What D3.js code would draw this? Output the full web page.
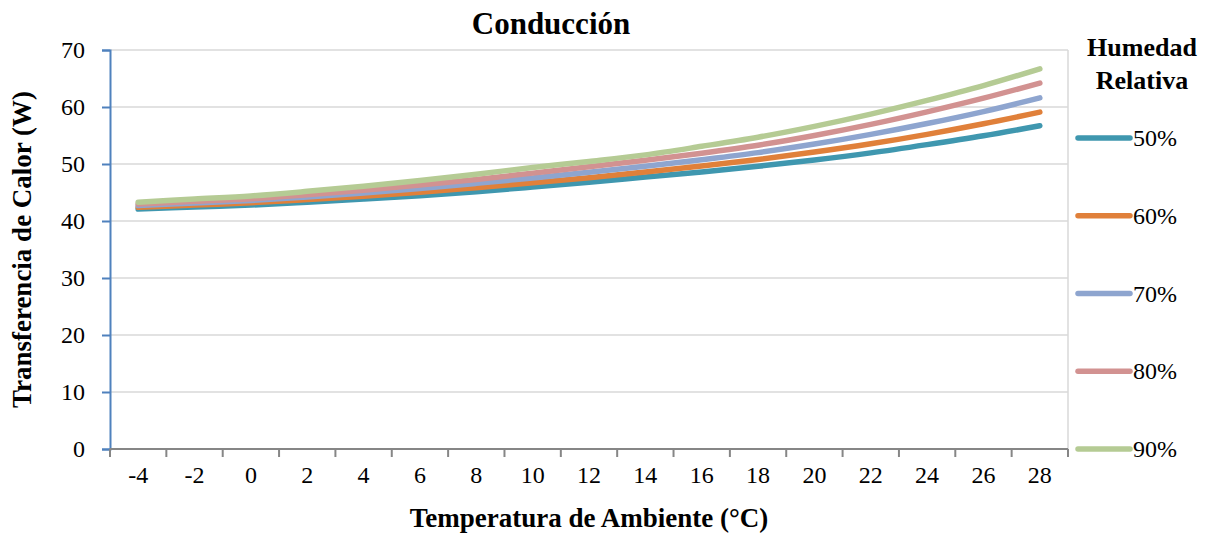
<!DOCTYPE html>
<html>
<head>
<meta charset="utf-8">
<script src="https://cdn.jsdelivr.net/npm/d3@7"></script>
<style>
  body { margin: 0; background: #fff; }
  svg text { font-family: "Liberation Serif", "Times New Roman", serif; fill: #000; }
</style>
</head>
<body>
<div class="canvas"></div>
<script>
// categories (temperature, °C)
const temps = ['-4', '-2', '0', '2', '4', '6', '8', '10', '12', '14', '16', '18', '20', '22', '24', '26', '28'];
// series names
const seriesNames = ['50%', '60%', '70%', '80%', '90%'];
// values (W)
const hr50 = [42.1, 42.45, 42.8, 43.3, 43.85, 44.45, 45.15, 45.95, 46.8, 47.7, 48.6, 49.6, 50.7, 51.95, 53.4, 54.95, 56.7];
const hr60 = [42.4, 42.8, 43.2, 43.75, 44.35, 45.05, 45.85, 46.7, 47.6, 48.6, 49.65, 50.8, 52.1, 53.55, 55.2, 57.05, 59.1];
const hr70 = [42.7, 43.15, 43.6, 44.2, 44.9, 45.7, 46.6, 47.55, 48.55, 49.6, 50.75, 52.0, 53.5, 55.2, 57.1, 59.2, 61.6];
const hr80 = [43.0, 43.45, 43.9, 44.6, 45.4, 46.3, 47.3, 48.4, 49.5, 50.65, 51.9, 53.3, 55.0, 56.95, 59.15, 61.55, 64.2];
const hr90 = [43.3, 43.85, 44.4, 45.2, 46.1, 47.1, 48.2, 49.4, 50.45, 51.6, 53.1, 54.7, 56.6, 58.75, 61.15, 63.75, 66.7];
// y ticks
const yTicks = [0, 10, 20, 30, 40, 50, 60, 70];

const colors = ['#3F97AF', '#E0803A', '#8EA5CF', '#D29291', '#B5CB94'];
const series = [hr50, hr60, hr70, hr80, hr90].map((v, i) => ({ name: seriesNames[i], values: v, color: colors[i] }));

// chart dimensions
const dims = { width: 1207, height: 534 };
const plot = { left: 110, right: 1068, top: 50, bottom: 449 };

const svg = d3.select('.canvas')
  .append('svg')
  .attr('width', dims.width)
  .attr('height', dims.height);

// scales
const x = d3.scaleBand()
  .domain(temps)
  .range([plot.left, plot.right])
  .padding(0);

const y = d3.scaleLinear()
  .domain([0, 70])
  .range([plot.bottom, plot.top]);

// gridlines
svg.append('g')
  .selectAll('line')
  .data(yTicks.filter(d => d > 0))
  .enter().append('line')
    .attr('x1', plot.left)
    .attr('x2', plot.right)
    .attr('y1', d => y(d))
    .attr('y2', d => y(d))
    .attr('stroke', '#D9D9D9')
    .attr('stroke-width', 1.5);

// right edge of plot area
svg.append('line')
  .attr('x1', plot.right).attr('x2', plot.right)
  .attr('y1', plot.top).attr('y2', plot.bottom)
  .attr('stroke', '#D9D9D9')
  .attr('stroke-width', 1.5);

// y axis
const yAxis = d3.axisLeft(y)
  .tickValues(yTicks)
  .tickSize(8)
  .tickPadding(17);

const yG = svg.append('g')
  .attr('transform', `translate(${plot.left}, 0)`)
  .call(yAxis);
yG.select('.domain').attr('stroke', '#4F81BD').attr('stroke-width', 2);
yG.selectAll('.tick line').attr('stroke', '#4F81BD').attr('stroke-width', 2);
yG.selectAll('.tick text')
  .attr('font-size', '24px')
  .attr('font-family', '"Liberation Serif", serif')
  .attr('fill', '#000');

// x axis - labels in the middle of each category, ticks on the boundaries
const xAxis = d3.axisBottom(x)
  .tickSize(0)
  .tickPadding(17);

const xG = svg.append('g')
  .attr('transform', `translate(0, ${plot.bottom})`)
  .call(xAxis);
xG.select('.domain').remove();
xG.selectAll('.tick text')
  .attr('font-size', '24px')
  .attr('font-family', '"Liberation Serif", serif')
  .attr('fill', '#000');

const bounds = temps.map(t => x(t)).concat([plot.right]);
xG.selectAll('.bound')
  .data(bounds)
  .enter().append('line')
    .attr('class', 'bound')
    .attr('x1', d => d).attr('x2', d => d)
    .attr('y1', 0).attr('y2', 8)
    .attr('stroke', '#868686')
    .attr('stroke-width', 2);

xG.append('line')
  .attr('x1', plot.left).attr('x2', plot.right)
  .attr('y1', 0).attr('y2', 0)
  .attr('stroke', '#868686')
  .attr('stroke-width', 2);

// lines
const line = d3.line()
  .x((d, i) => x(temps[i]) + x.bandwidth() / 2)
  .y(d => y(d))
  .curve(d3.curveCatmullRom);

svg.append('g')
  .selectAll('path')
  .data(series)
  .enter().append('path')
    .attr('d', d => line(d.values))
    .attr('fill', 'none')
    .attr('stroke', d => d.color)
    .attr('stroke-width', 5.5)
    .attr('stroke-linecap', 'round')
    .attr('stroke-linejoin', 'round');

// title
svg.append('text')
  .attr('x', 551)
  .attr('y', 34)
  .attr('text-anchor', 'middle')
  .attr('font-size', '31px')
  .attr('font-weight', 'bold')
  .text('Conducción');

// axis titles
svg.append('text')
  .attr('transform', `translate(31, ${(plot.top + plot.bottom) / 2}) rotate(-90)`)
  .attr('text-anchor', 'middle')
  .attr('font-size', '27px')
  .attr('font-weight', 'bold')
  .text('Transferencia de Calor (W)');

svg.append('text')
  .attr('x', (plot.left + plot.right) / 2)
  .attr('y', 527)
  .attr('text-anchor', 'middle')
  .attr('font-size', '27px')
  .attr('font-weight', 'bold')
  .text('Temperatura de Ambiente (°C)');

// legend
const legendGroup = svg.append('g');

legendGroup.append('text')
  .attr('x', 1142).attr('y', 56)
  .attr('text-anchor', 'middle')
  .attr('font-size', '26px')
  .attr('font-weight', 'bold')
  .text('Humedad');
legendGroup.append('text')
  .attr('x', 1142).attr('y', 89)
  .attr('text-anchor', 'middle')
  .attr('font-size', '26px')
  .attr('font-weight', 'bold')
  .text('Relativa');

const legendY = d3.scalePoint()
  .domain(seriesNames)
  .range([138, 449]);

const items = legendGroup.selectAll('.item')
  .data(series)
  .enter().append('g')
    .attr('class', 'item')
    .attr('transform', d => `translate(0, ${legendY(d.name)})`);

items.append('line')
  .attr('x1', 1078).attr('x2', 1130)
  .attr('y1', 0).attr('y2', 0)
  .attr('stroke', d => d.color)
  .attr('stroke-width', 5.5)
  .attr('stroke-linecap', 'round');

items.append('text')
  .attr('x', 1133)
  .attr('y', 8)
  .attr('font-size', '24px')
  .text(d => d.name);
</script>
</body>
</html>
